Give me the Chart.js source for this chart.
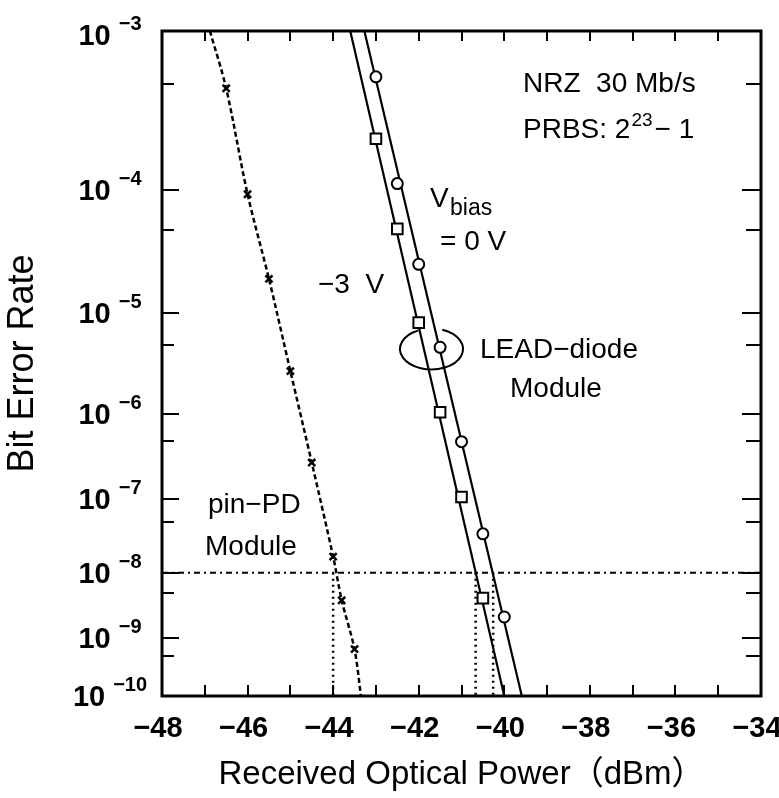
<!DOCTYPE html>
<html><head><meta charset="utf-8">
<script src="https://cdn.jsdelivr.net/npm/chart.js@4.4.1/dist/chart.umd.min.js"></script>
<style>html,body{margin:0;padding:0;background:#fff;}canvas{display:block}</style>
</head><body>
<canvas id="c" width="779" height="798"></canvas>
<script>
// ---- data (Received optical power in dBm, bit error rate) ----
const pinX      = [-46.5, -46.0, -45.5, -45.0, -44.5, -44.0, -43.8, -43.5];
const pinBER    = [4.7e-4, 9.3e-5, 2.0e-5, 2.8e-6, 2.8e-7, 1.7e-8, 3.9e-9, 6.5e-10];
const pinCurveX   = [-46.88, -46.5, -46.0, -45.5, -45.0, -44.5, -44.0, -43.8, -43.5, -43.35];
const pinCurveBER = [1e-3, 4.7e-4, 9.3e-5, 2.0e-5, 2.8e-6, 2.8e-7, 1.7e-8, 3.9e-9, 6.5e-10, 1e-10];

const m3X      = [-43.0, -42.5, -42.0, -41.5, -41.0, -40.5];
const m3BER    = [2.26e-4, 5.1e-5, 8.2e-6, 1.04e-6, 1.06e-7, 4.2e-9];
const m3FitX   = [-43.6, -40.0];
const m3FitBER = [1e-3, 1e-10];

const v0X      = [-43.0, -42.5, -42.0, -41.5, -41.0, -40.5, -40.0];
const v0BER    = [5.5e-4, 1.11e-4, 2.65e-5, 4.8e-6, 4.9e-7, 3.5e-8, 2.15e-9];
const v0FitX   = [-43.27, -39.59];
const v0FitBER = [1e-3, 1e-10];

const refBER    = 1e-8;
const refLineX  = [-48, -34];
const crossX    = [-44.0, -40.67, -40.26];   // sensitivity at 1e-8

const xTickValues = [-48, -46, -44, -42, -40, -38, -36, -34];
const xTickLabels = ['\u221248', '\u221246', '\u221244', '\u221242', '\u221240', '\u221238', '\u221236', '\u221234'];
const yMajorBER   = [1e-3, 1e-4, 1e-5, 1e-6, 1e-7, 1e-8, 1e-9, 1e-10];
const yExpLabels  = ['\u22123', '\u22124', '\u22125', '\u22126', '\u22127', '\u22128', '\u22129', '\u221210'];
const yMinorBER   = [5e-4, 5e-5, 5e-6, 5e-7, 5e-8, 5e-9, 5e-10];

// BER axis: log(-log(BER)) scale
const f = b => Math.log10(-Math.log10(b));
const pts = (xs, bs) => xs.map((x, i) => ({x: x, y: f(bs[i])}));

const SANS = "'Liberation Sans', Arial, 'Noto Sans CJK JP', sans-serif";

const decor = {
  id: 'decor',
  afterDatasetsDraw(chart) {
    const ctx = chart.ctx, a = chart.chartArea;
    const xs = chart.scales.x, ys = chart.scales.y;
    ctx.save();
    ctx.strokeStyle = '#000'; ctx.fillStyle = '#000';
    // frame
    ctx.lineWidth = 3;
    ctx.strokeRect(a.left, a.top, a.right - a.left, a.bottom - a.top);
    // x ticks every 1 dB
    ctx.lineWidth = 2;
    ctx.beginPath();
    for (let v = -47; v <= -35; v++) {
      const px = Math.round(xs.getPixelForValue(v));
      ctx.moveTo(px, a.bottom); ctx.lineTo(px, a.bottom - 11);
      ctx.moveTo(px, a.top); ctx.lineTo(px, a.top + 10);
    }
    // y ticks
    yMajorBER.forEach(b => {
      const py = Math.round(ys.getPixelForValue(f(b)));
      ctx.moveTo(a.left, py); ctx.lineTo(a.left + 17, py);
      ctx.moveTo(a.right, py); ctx.lineTo(a.right - 19, py);
    });
    yMinorBER.forEach(b => {
      const py = Math.round(ys.getPixelForValue(f(b)));
      ctx.moveTo(a.left, py); ctx.lineTo(a.left + 12, py);
      ctx.moveTo(a.right, py); ctx.lineTo(a.right - 15, py);
    });
    ctx.stroke();

    // y tick labels 10^-n
    const tenFont = 'bold 29px ' + SANS;
    const expFont = 'bold 20px ' + SANS;
    yMajorBER.forEach((b, i) => {
      const py = ys.getPixelForValue(f(b));
      const base = Math.max(py + 10, a.top + 14);
      ctx.font = tenFont;
      const w10 = ctx.measureText('10').width;
      ctx.font = expFont;
      const we = ctx.measureText(yExpLabels[i]).width;
      const gap = 8;
      const x0 = 110 - (w10 + gap + we) / 2;
      ctx.textAlign = 'left'; ctx.textBaseline = 'alphabetic';
      ctx.font = tenFont;
      ctx.fillText('10', x0, base);
      ctx.font = expFont;
      ctx.fillText(yExpLabels[i], x0 + w10 + gap, base - 15);
    });

    // annotations
    ctx.textAlign = 'left'; ctx.textBaseline = 'alphabetic';
    const big = '28px ' + SANS, small = '19px ' + SANS;
    ctx.font = big;
    ctx.fillText('NRZ  30 Mb/s', 523, 92);
    ctx.fillText('PRBS: 2', 523, 138);
    let w = ctx.measureText('PRBS: 2').width;
    ctx.font = small; ctx.fillText('23', 523 + w + 1, 126);
    let w2 = ctx.measureText('23').width;
    ctx.font = big; ctx.fillText('\u2212 1', 523 + w + w2 + 3, 138);

    ctx.fillText('V', 430, 207);
    ctx.font = '23px ' + SANS; ctx.fillText('bias', 450, 215);
    ctx.font = big;
    ctx.fillText('= 0 V', 440, 250);
    ctx.fillText('\u22123  V', 318, 293);
    ctx.fillText('LEAD\u2212diode', 480, 358);
    ctx.fillText('Module', 510, 397);
    ctx.fillText('pin\u2212PD', 208, 513);
    ctx.fillText('Module', 205, 555);

    // loop around LEAD-diode curves
    ctx.lineWidth = 2;
    ctx.beginPath();
    ctx.ellipse(431.5, 349, 31.5, 20.5, 0, -70 * Math.PI / 180, 245 * Math.PI / 180);
    ctx.stroke();
    ctx.restore();
  }
};

const lineDs = (data, extra) => Object.assign({
  data: data, showLine: true, borderColor: '#000', borderWidth: 2.2,
  pointRadius: 0, fill: false, order: 2
}, extra);
const markDs = (data, style, r, extra) => Object.assign({
  data: data, showLine: false, pointStyle: style, pointRadius: r,
  borderColor: '#000', backgroundColor: '#fff', pointBorderWidth: 2, order: 0
}, extra);

const datasets = [
  markDs(pts(pinX, pinBER), 'crossRot', 5, {pointBorderWidth: 2.5}),
  markDs(pts(m3X, m3BER), 'rect', 7.5),
  markDs(pts(v0X, v0BER), 'circle', 5.5),
  lineDs(pts(pinCurveX, pinCurveBER), {borderDash: [5, 3], borderWidth: 2.5, tension: 0.3}),
  lineDs(pts(m3FitX, m3FitBER)),
  lineDs(pts(v0FitX, v0FitBER)),
  lineDs(pts(refLineX, [refBER, refBER]), {borderDash: [6, 4, 2, 4], borderWidth: 2.2, order: 3}),
];
crossX.forEach(x => datasets.push(
  lineDs(pts([x, x], [refBER, 1e-10]), {borderDash: [2, 4], borderWidth: 2.5, order: 3})
));

new Chart(document.getElementById('c'), {
  type: 'scatter',
  data: {datasets: datasets},
  options: {
    responsive: false, animation: false, devicePixelRatio: 1,
    layout: {padding: {top: 31, right: 18, left: 0, bottom: 0}},
    plugins: {legend: {display: false}, tooltip: {enabled: false}},
    scales: {
      x: {
        type: 'linear', min: -48, max: -34,
        grid: {display: false, drawTicks: false}, border: {display: false},
        afterBuildTicks: s => { s.ticks = xTickValues.map(v => ({value: v})); },
        ticks: {
          color: '#000', font: {family: SANS, size: 29, weight: 'bold'},
          padding: 16, labelOffset: -4, maxRotation: 0, autoSkip: false,
          callback: (v, i) => xTickLabels[i]
        },
        title: {display: true, text: 'Received Optical Power（dBm）', color: '#000',
          font: {family: SANS, size: 33}, padding: {top: 0, bottom: 3}},
        afterFit: s => { s.height = 102; s.paddingLeft = 0; s.paddingRight = 0; }
      },
      y: {
        type: 'linear', reverse: true, min: f(1e-3), max: f(1e-10),
        grid: {display: false, drawTicks: false}, border: {display: false},
        ticks: {display: false},
        title: {display: true, text: 'Bit Error Rate', color: '#000',
          font: {family: SANS, size: 36}, padding: {top: 1, bottom: 0}},
        afterFit: s => { s.width = 162; s.paddingTop = 0; s.paddingBottom = 0; }
      }
    }
  },
  plugins: [decor]
});
</script>
</body></html>
